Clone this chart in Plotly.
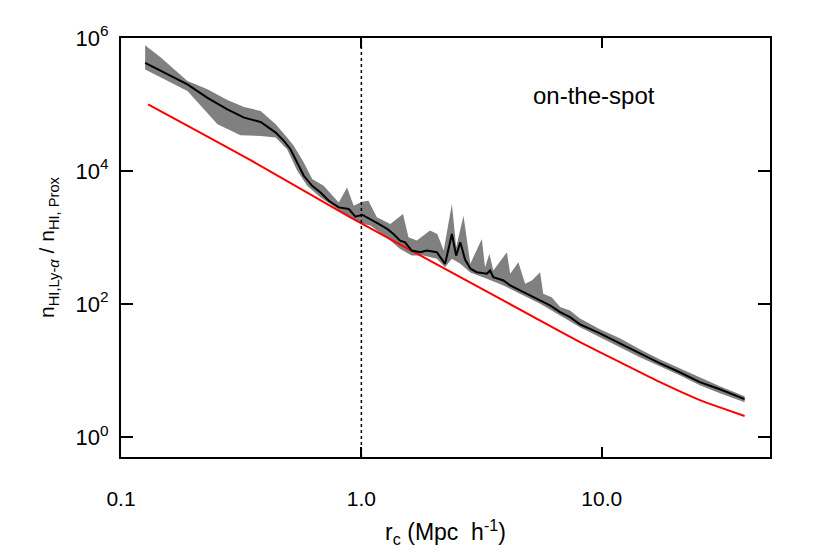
import plotly.graph_objects as go

# ---- data (r_c in Mpc/h, ratio values) ----
median_r = [0.126, 0.151, 0.189, 0.229, 0.277, 0.325, 0.381, 0.440, 0.476, 0.507,
            0.541, 0.576, 0.624, 0.676, 0.732, 0.805, 0.886, 0.944, 1.007, 1.09,
            1.18, 1.28, 1.36, 1.45, 1.52, 1.62, 1.76, 1.87, 2.06, 2.23,
            2.38, 2.48, 2.58, 2.70, 2.84, 3.02, 3.33, 3.43, 3.54, 3.90,
            4.16, 4.57, 5.03, 5.54, 6.09, 6.71, 7.38, 8.12, 9.83, 11.9,
            14.4, 17.4, 21.1, 25.6, 31.0, 39.3]
median_ratio = [4.24e5, 3.0e5, 2.01e5, 1.26e5, 8.47e4, 6.34e4, 5.47e4, 3.78e4, 2.84e4, 2.13e4,
                1.34e4, 8470, 6000, 4760, 3570, 2840, 2690, 2060, 2200, 1900,
                1600, 1350, 1130, 899, 847, 636, 600, 636, 600, 402,
                1130, 535, 847, 466, 342, 301, 285, 319, 253, 226,
                190, 160, 135, 113, 95.3, 75.6, 63.6, 49.4, 36.3, 25.7,
                18.2, 12.9, 9.43, 6.68, 5.24, 3.71]

upper_r = [0.126, 0.146, 0.189, 0.229, 0.277, 0.325, 0.381, 0.440, 0.491, 0.523,
           0.576, 0.624, 0.697, 0.805, 0.872, 0.929, 1.007, 1.07, 1.16, 1.32,
           1.49, 1.57, 1.70, 1.93, 2.07, 2.20, 2.38, 2.48, 2.66, 2.84,
           3.17, 3.27, 3.41, 3.54, 4.03, 4.16, 4.50, 4.80, 5.12, 5.54,
           5.71, 6.19, 6.71, 7.38, 8.12, 9.83, 11.9, 14.4, 17.4, 21.1,
           25.6, 31.0, 39.3]
upper_ratio = [7.80e5, 5.15e5, 2.25e5, 1.69e5, 1.17e5, 9.18e4, 7.99e4, 5.05e4, 3.18e4, 2.39e4,
               1.34e4, 7560, 6000, 3370, 5660, 3010, 3450, 3570, 2010, 1600,
               2260, 1010, 899, 1270, 1130, 636, 3190, 713, 2130, 402,
               953, 357, 568, 319, 600, 285, 425, 202, 226, 301,
               143, 127, 89.9, 80.2, 60.8, 41.6, 30.5, 20.9, 14.8, 10.8,
               7.94, 5.82, 4.12]

lower_r = [0.126, 0.189, 0.252, 0.314, 0.381, 0.440, 0.491, 0.541, 0.595, 0.676,
           0.793, 0.900, 1.02, 1.09, 1.32, 1.45, 1.62, 1.81, 2.06, 2.23,
           2.38, 2.58, 2.84, 3.33, 3.90, 4.57, 5.54, 6.71, 8.12, 9.83,
           11.9, 14.4, 17.4, 21.1, 25.6, 31.0, 39.3]
lower_ratio = [3.37e5, 1.59e5, 5.05e4, 3.45e4, 3.37e4, 3.18e4, 2.13e4, 1.01e4, 6000, 4010,
               2690, 1990, 1600, 1510, 899, 675, 535, 535, 478, 357,
               478, 402, 298, 239, 190, 143, 101, 67.5, 44.6, 31.6,
               22.4, 15.8, 11.6, 8.50, 6.02, 4.57, 3.35]

analytic_r = [0.1296, 0.346, 0.900, 2.66, 6.50, 8.12, 11.9, 17.4, 25.6, 31.0, 39.3]
analytic_ratio = [1.007e5, 1.456e4, 2014, 239, 41.2, 26.8, 13.4, 6.74, 3.59, 2.79, 2.07]

x_tickvals = [0.1, 1.0, 10.0]
x_ticktext = ["0.1", "1.0", "10.0"]
y_tickvals = [1, 100, 1e4, 1e6]
y_ticktext = ["10<sup>0</sup>", "10<sup>2</sup>", "10<sup>4</sup>", "10<sup>6</sup>"]

FONT = "Liberation Sans, Arial, Helvetica, sans-serif"

fig = go.Figure()

# shaded band (closed polygon)
fig.add_trace(go.Scatter(
    x=upper_r + lower_r[::-1],
    y=upper_ratio + lower_ratio[::-1],
    fill="toself", fillcolor="#808080",
    line=dict(width=0, color="#808080"),
    mode="lines", hoverinfo="skip", showlegend=False))

fig.add_trace(go.Scatter(
    x=analytic_r, y=analytic_ratio, mode="lines",
    line=dict(color="#ff0000", width=2, shape="spline", smoothing=0.6),
    showlegend=False))

fig.add_trace(go.Scatter(
    x=median_r, y=median_ratio, mode="lines",
    line=dict(color="black", width=2),
    showlegend=False))

fig.add_shape(type="line", xref="x", yref="paper", x0=1.0, x1=1.0, y0=0, y1=1,
              line=dict(color="black", width=1.5, dash="dot"))

fig.add_annotation(text="on-the-spot", xref="paper", yref="paper",
                   x=0.729, y=0.862, xanchor="center", yanchor="middle",
                   showarrow=False,
                   font=dict(family=FONT, size=24, color="black"))

fig.update_xaxes(
    type="log", range=[-1.0, 1.70],
    tickvals=x_tickvals, ticktext=x_ticktext,
    ticks="inside", ticklen=10, tickwidth=2, tickcolor="black",
    showline=True, linewidth=2, linecolor="black", mirror="ticks",
    showgrid=False, zeroline=False, automargin=False,
    ticklabelstandoff=22,
    tickfont=dict(family=FONT, size=21, color="black"),
    title=dict(text="r<sub>c</sub> (Mpc  h<sup>-1</sup>)",
               font=dict(family=FONT, size=23, color="black"), standoff=15))

fig.update_yaxes(
    type="log", range=[-0.3, 6.0],
    tickvals=y_tickvals, ticktext=y_ticktext,
    ticks="inside", ticklen=12, tickwidth=2, tickcolor="black",
    showline=True, linewidth=2, linecolor="black", mirror="ticks",
    showgrid=False, zeroline=False, automargin=False,
    ticklabelstandoff=6,
    tickfont=dict(family=FONT, size=22, color="black"),
    title=dict(text="n<sub>HI,Ly-<i>α</i></sub> / n<sub>HI, Prox</sub>",
               font=dict(family=FONT, size=21, color="black"), standoff=15))

# page body has an 8px margin; compensate so the axes land where the reference has them
fig.update_layout(
    width=822, height=546,
    margin=dict(l=113, r=60, t=30, b=97),
    paper_bgcolor="white", plot_bgcolor="white",
    showlegend=False)

fig.write_html("out.html")
